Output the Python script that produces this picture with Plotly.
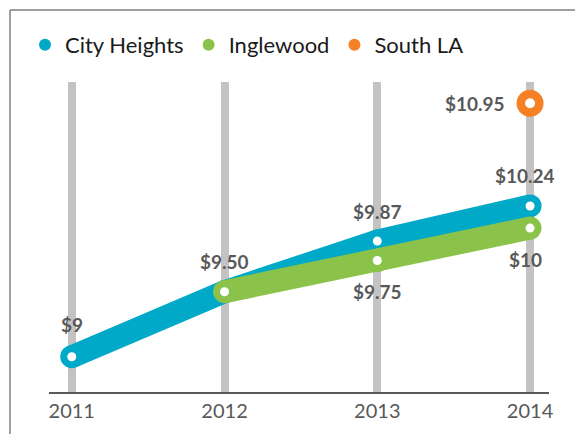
import plotly.graph_objects as go

years = [2011, 2012, 2013, 2014]
# plotted positions
city_heights = [9.00, 9.50, 9.89, 10.16]
inglewood_years = [2012, 2013, 2014]
inglewood = [9.50, 9.74, 9.99]
south_la_years = [2014]
south_la = [10.95]

ch_labels = ["$9", "$9.50", "$9.87", "$10.24"]
ig_labels = ["", "$9.75", "$10"]
sla_labels = ["$10.95"]

BLUE = "#00a9c7"
GREEN = "#8bc34a"
ORANGE = "#f58025"
LABEL = "#595959"
LW = 23

fig = go.Figure()

def band(x, y, color, name, msize=LW):
    fig.add_trace(go.Scatter(x=x, y=y, mode="lines+markers", name=name,
                             line=dict(color=color, width=LW),
                             marker=dict(color=color, size=msize, line=dict(width=0)),
                             showlegend=False, hoverinfo="skip"))
    fig.add_trace(go.Scatter(x=x, y=y, mode="markers", showlegend=False,
                             marker=dict(color="white", size=9 if msize == LW else 10,
                                         line=dict(width=0)),
                             hoverinfo="skip"))

band(years, city_heights, BLUE, "City Heights")
band(inglewood_years, inglewood, GREEN, "Inglewood")
band(south_la_years, south_la, ORANGE, "South LA", msize=27)

# legend entries
for nm, c in [("City Heights", BLUE), ("Inglewood", GREEN), ("South LA", ORANGE)]:
    fig.add_trace(go.Scatter(x=[None], y=[None], mode="markers", name=nm,
                             marker=dict(color=c, size=17)))

ann = []
for x, y, t in zip(years, city_heights, ch_labels):
    if t:
        ann.append(dict(x=x, y=y, text=t, yshift=32 if x == 2011 else 30,
                        xshift=-5 if x == 2014 else 0))
for x, y, t in zip(inglewood_years, inglewood, ig_labels):
    if t:
        ann.append(dict(x=x, y=y, text=t, yshift=-31, xshift=-5 if x == 2014 else 0))
for x, y, t in zip(south_la_years, south_la, sla_labels):
    ann.append(dict(x=x, y=y, text=t, xanchor="right", xshift=-23))
for a in ann:
    a.update(xref="x", yref="y", showarrow=False,
             font=dict(family="Lato", size=19, color=LABEL, weight="bold"))

fig.update_layout(
    width=575, height=434,
    margin=dict(l=49, r=26, t=82, b=42, autoexpand=False),
    paper_bgcolor="white", plot_bgcolor="white",
    font=dict(family="Lato"),
    showlegend=True,
    legend=dict(orientation="h", xref="container", yref="container",
                x=25 / 575, y=1 - 45 / 434, xanchor="left", yanchor="middle",
                font=dict(size=22, color="#1a1a1a"), itemsizing="constant",
                traceorder="normal", itemwidth=30, bgcolor="rgba(0,0,0,0)"),
    annotations=ann,
    shapes=[
        dict(type="line", xref="paper", yref="paper", x0=-0.078, x1=-0.078,
             y0=1.232, y1=-0.3, line=dict(color="#808080", width=1.5)),
        dict(type="line", xref="paper", yref="paper", x0=-0.078, x1=1.2,
             y0=1.232, y1=1.232, line=dict(color="#808080", width=1.5)),
    ],
)
fig.update_xaxes(range=[2010.851, 2014.124], tickvals=years, ticktext=[str(y) for y in years],
                 showgrid=True, gridcolor="#c4c2c3", gridwidth=8, zeroline=False,
                 showline=True, linecolor="#595959", linewidth=1.5, automargin=False,
                 tickfont=dict(size=20, color=LABEL), ticks="", ticklabelstandoff=0)
fig.update_yaxes(range=[8.7285, 11.114], showgrid=False, zeroline=False, automargin=False,
                 showticklabels=False, showline=False)

fig.write_html("out.html", post_script="document.body.style.margin='0';",
               config={"displayModeBar": False})
